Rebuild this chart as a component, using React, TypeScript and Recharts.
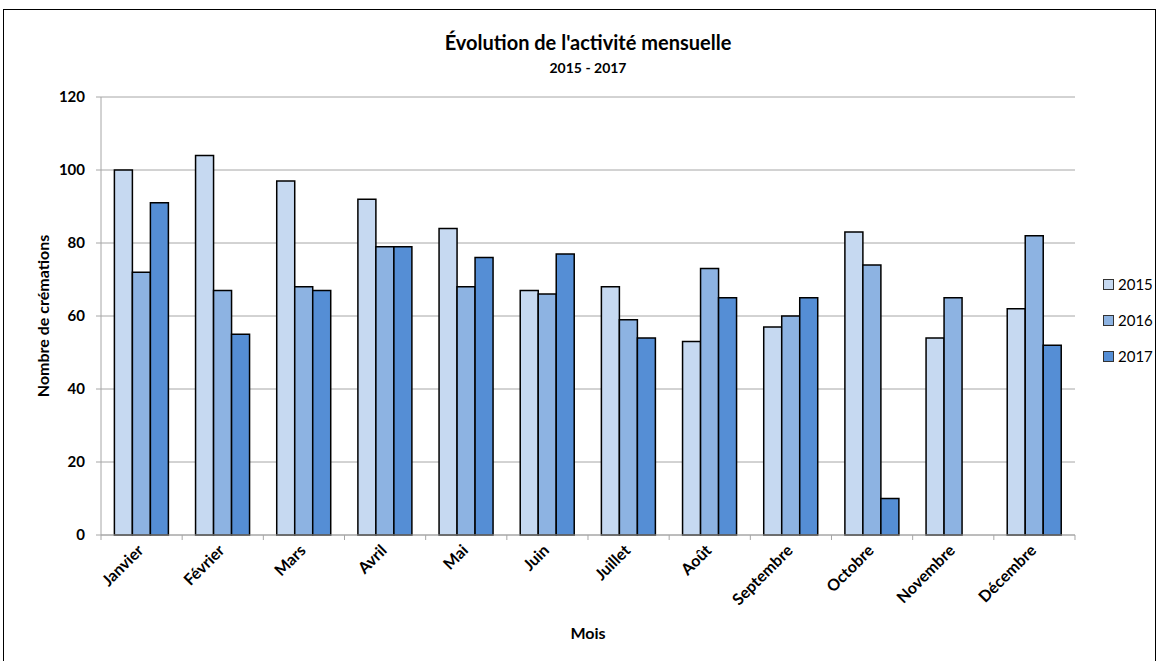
import { BarChart, Bar, XAxis, YAxis, CartesianGrid } from 'recharts';

const months = ['Janvier', 'Février', 'Mars', 'Avril', 'Mai', 'Juin', 'Juillet', 'Août', 'Septembre', 'Octobre', 'Novembre', 'Décembre'];
const values2015 = [100, 104, 97, 92, 84, 67, 68, 53, 57, 83, 54, 62];
const values2016 = [72, 67, 68, 79, 68, 66, 59, 73, 60, 74, 65, 82];
const values2017 = [91, 55, 67, 79, 76, 77, 54, 65, 65, 10, null, 52];
const yTicks = [0, 20, 40, 60, 80, 100, 120];

const series = [
  { key: 'y2015', name: '2015', color: '#C6D9F1' },
  { key: 'y2016', name: '2016', color: '#8DB3E2' },
  { key: 'y2017', name: '2017', color: '#558ED5' },
];

const data = months.map((m, i) => ({
  month: m,
  y2015: values2015[i],
  y2016: values2016[i],
  y2017: values2017[i],
}));

const FONT = 'Lato, "Open Sans", sans-serif';

// month label rotated like Excel, plus tick marks between categories
const MonthTick = (props: any) => {
  const { x, y, payload, index, visibleTicksCount } = props;
  const half = payload && payload.offset ? payload.offset : 40.6;
  const last = index === visibleTicksCount - 1;
  return (
    <g transform={`translate(${x},${y})`}>
      <line x1={-half} y1={-8} x2={-half} y2={-3} stroke="#A6A6A6" />
      {last && <line x1={half} y1={-8} x2={half} y2={-3} stroke="#A6A6A6" />}
      <text
        x={-4}
        y={8}
        textAnchor="end"
        transform="rotate(-45)"
        fill="#000"
        fontSize={16}
        fontWeight="bold"
        fontFamily={FONT}
      >
        {payload.value}
      </text>
    </g>
  );
};

export default function App() {
  return (
    <div style={{ position: 'absolute', left: 0, top: 0, width: 1159, height: 661, background: '#fff', fontFamily: FONT }}>
      <div style={{ position: 'absolute', left: 3, top: 9, width: 1151, height: 660, border: '1.5px solid #000' }} />
      <BarChart
        width={1159}
        height={661}
        data={data}
        margin={{ top: 97, right: 84, bottom: 14, left: 30 }}
        barCategoryGap="16.5%"
        barGap={0}
        style={{ position: 'absolute', left: 0, top: 0 }}
      >
        <text x={588} y={50} textAnchor="middle" fontSize={20} fontWeight="bold" fontFamily={FONT} fill="#000">
          Évolution de l'activité mensuelle
        </text>
        <text x={588} y={73} textAnchor="middle" fontSize={14} fontWeight="bold" fontFamily={FONT} fill="#000">
          2015 - 2017
        </text>
        <CartesianGrid vertical={false} stroke="#A6A6A6" strokeWidth={1} />
        <XAxis
          dataKey="month"
          height={112}
          interval={0}
          tick={<MonthTick />}
          tickLine={false}
          axisLine={{ stroke: '#A6A6A6' }}
          label={{ value: 'Mois', position: 'insideBottom', offset: 8, fill: '#000', fontSize: 16, fontWeight: 'bold', fontFamily: FONT }}
        />
        <YAxis
          width={71}
          domain={[0, 120]}
          ticks={yTicks}
          tickSize={5}
          tickMargin={11}
          tickLine={{ stroke: '#A6A6A6' }}
          axisLine={{ stroke: '#A6A6A6' }}
          tick={{ fill: '#000', fontSize: 15, fontWeight: 'bold', fontFamily: FONT }}
          label={{ value: 'Nombre de crémations', angle: -90, position: 'insideLeft', offset: 13, style: { textAnchor: 'middle' }, fill: '#000', fontSize: 16, fontWeight: 'bold', fontFamily: FONT }}
        />
        {series.map((s) => (
          <Bar
            key={s.key}
            dataKey={s.key}
            name={s.name}
            fill={s.color}
            stroke="#000"
            strokeWidth={1.5}
            isAnimationActive={false}
          />
        ))}
      </BarChart>
      <div style={{ position: 'absolute', left: 1103, top: 266 }}>
        {series.map((s) => (
          <div key={s.key} style={{ display: 'flex', alignItems: 'center', height: 36, fontSize: 15, color: '#000' }}>
            <span style={{ display: 'inline-block', width: 9, height: 9, background: s.color, border: '1px solid #333', marginRight: 4 }} />
            {s.name}
          </div>
        ))}
      </div>
    </div>
  );
}
